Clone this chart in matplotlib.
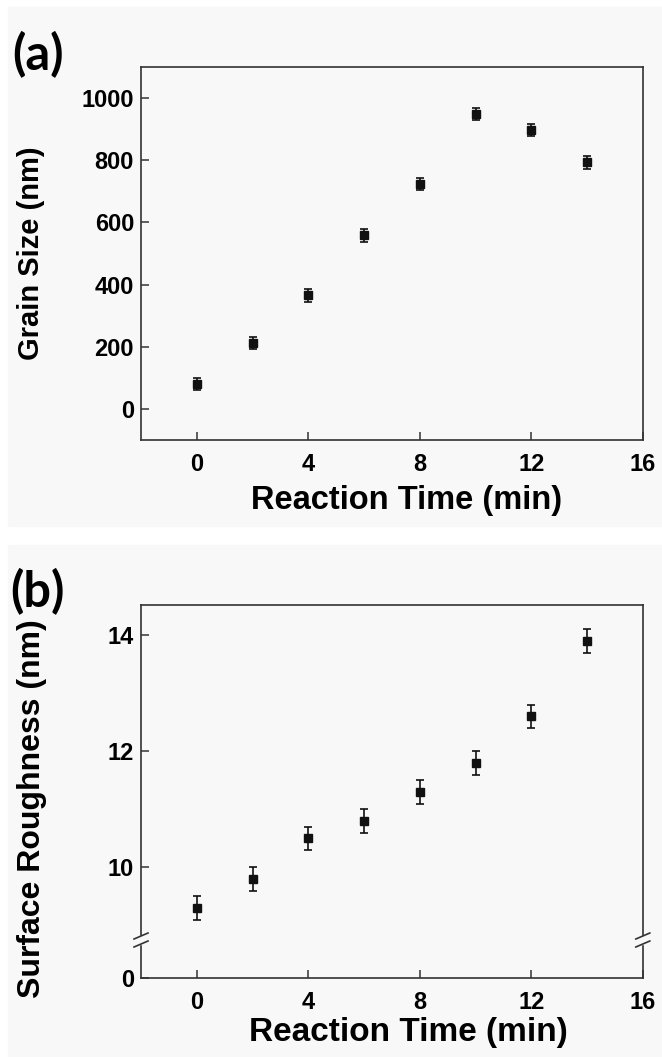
import numpy as np
import matplotlib
matplotlib.use("Agg")
import matplotlib.pyplot as plt
from matplotlib.patches import Rectangle
from matplotlib.lines import Line2D

# data
reaction_time = [0, 2, 4, 6, 8, 10, 12, 14]
grain_size = [80, 212, 365, 558, 723, 948, 897, 793]
grain_err = [20, 20, 20, 20, 20, 20, 20, 20]
roughness = [9.3, 9.8, 10.5, 10.8, 11.3, 11.8, 12.6, 13.9]
rough_err = [0.2, 0.2, 0.2, 0.2, 0.2, 0.2, 0.2, 0.2]

x_ticks = [0, 4, 8, 12, 16]
grain_ticks = [0, 200, 400, 600, 800, 1000]
rough_ticks = [0, 10, 12, 14]

bg = '#f8f8f8'
ink = '#111111'
spine_col = '#333333'

plt.rcParams['font.family'] = ['Liberation Sans', 'DejaVu Sans']
plt.rcParams['font.weight'] = 'bold'

fig = plt.figure(figsize=(6.62, 10.57), dpi=100)
fig.patch.set_facecolor('white')

# grey panel backgrounds
fig.patches.append(Rectangle((8 / 662, 1 - 526 / 1057), 1, (526 - 7) / 1057,
                             transform=fig.transFigure, color=bg, zorder=-10))
fig.patches.append(Rectangle((8 / 662, 0), 1, 1 - 545 / 1057,
                             transform=fig.transFigure, color=bg, zorder=-10))

ax1 = fig.add_axes([0.213, 0.5837, 0.758, 0.3529])
ax2 = fig.add_axes([0.213, 0.0747, 0.758, 0.3529])

# broken y axis for (b): everything below the break is squeezed
brk = 8.75
squeeze = 0.655 / brk


def fwd(y):
    y = np.asarray(y, dtype=float)
    return np.where(y >= brk, y, brk - (brk - y) * squeeze)


def inv(t):
    t = np.asarray(t, dtype=float)
    return np.where(t >= brk, t, brk - (brk - t) / squeeze)


ax2.set_yscale('function', functions=(fwd, inv))

for ax in (ax1, ax2):
    ax.set_facecolor(bg)
    for s in ax.spines.values():
        s.set_color(spine_col)
        s.set_linewidth(1.2)
    ax.tick_params(direction='in', length=6, width=1.1, color=spine_col,
                   labelsize=17, top=False, right=False)
    ax.tick_params(axis='y', pad=5)
    ax.tick_params(axis='x', pad=9)
    ax.set_xlim(-2, 16)

ax1.errorbar(reaction_time, grain_size, yerr=grain_err, fmt='s', color=ink,
             markersize=6, capsize=3, elinewidth=1.2, capthick=1.2)
ax1.set_ylim(-100, 1100)
ax1.set_yticks(grain_ticks)
ax1.set_xticks(x_ticks)
ax1.set_ylabel('Grain Size (nm)', fontsize=21, fontweight='bold')
ax1.set_xlabel('Reaction Time (min)', fontsize=23.5, fontweight='bold')
ax1.yaxis.set_label_coords(-0.191, 0.5)
ax1.xaxis.set_label_coords(0.53, -0.12)

ax2.errorbar(reaction_time, roughness, yerr=rough_err, fmt='s', color=ink,
             markersize=6, capsize=3, elinewidth=1.2, capthick=1.2)
ax2.set_ylim(0, 14.52)
ax2.set_yticks(rough_ticks)
ax2.set_yticklabels([str(v) for v in rough_ticks])
ax2.set_xticks(x_ticks)
ax2.set_ylabel('Surface Roughness (nm)', fontsize=23, fontweight='bold')
ax2.set_xlabel('Reaction Time (min)', fontsize=24, fontweight='bold')
ax2.yaxis.set_label_coords(-0.187, 0.455)
ax2.xaxis.set_label_coords(0.532, -0.105)

for ax in (ax1, ax2):
    for lab in ax.get_xticklabels() + ax.get_yticklabels():
        lab.set_fontweight('bold')

# break marks on both vertical spines
fig.canvas.draw()
fb = ax2.transAxes.inverted().transform(ax2.transData.transform((0, brk)))[1]
px_x = 1 / (0.758 * 662)
px_y = 1 / (0.3529 * 1057)
for xs in (0, 1):
    ax2.add_patch(Rectangle((xs - 3 * px_x, fb - 4 * px_y), 6 * px_x, 8 * px_y,
                            transform=ax2.transAxes, color=bg, clip_on=False,
                            zorder=5))
    for dy in (-4, 4):
        ax2.add_line(Line2D([xs - 7 * px_x, xs + 7 * px_x],
                            [fb + (dy - 3) * px_y, fb + (dy + 3) * px_y],
                            transform=ax2.transAxes, color=spine_col, lw=1.2,
                            clip_on=False, zorder=6))

fig.text(0.057, 0.948, '(a)', fontsize=35, fontweight='bold',
         family=['Lato', 'DejaVu Sans'], ha='center', va='center')
fig.text(0.057, 0.44, '(b)', fontsize=35, fontweight='bold',
         family=['Lato', 'DejaVu Sans'], ha='center', va='center')

fig.savefig('out.png', dpi=100, facecolor='white')
